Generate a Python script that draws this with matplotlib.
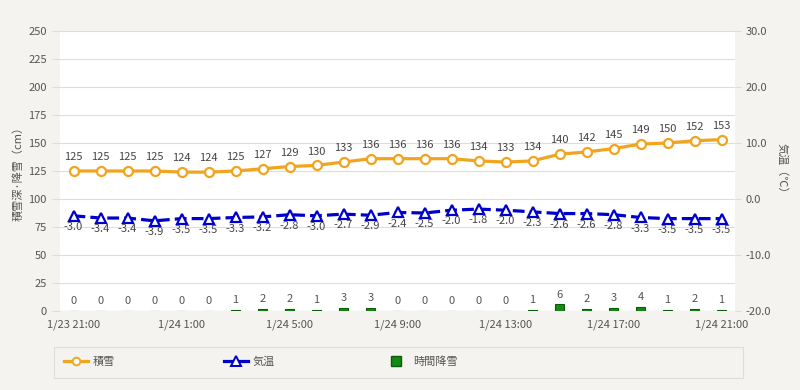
import numpy as np
import matplotlib.pyplot as plt
from matplotlib.lines import Line2D
from matplotlib.patches import Rectangle

plt.rcParams['font.family'] = ['Noto Sans CJK JP', 'DejaVu Sans']

hours = ['1/23 21:00', '1/23 22:00', '1/23 23:00', '1/24 0:00', '1/24 1:00', '1/24 2:00',
         '1/24 3:00', '1/24 4:00', '1/24 5:00', '1/24 6:00', '1/24 7:00', '1/24 8:00',
         '1/24 9:00', '1/24 10:00', '1/24 11:00', '1/24 12:00', '1/24 13:00', '1/24 14:00',
         '1/24 15:00', '1/24 16:00', '1/24 17:00', '1/24 18:00', '1/24 19:00', '1/24 20:00',
         '1/24 21:00']
snow_depth = [125, 125, 125, 125, 124, 124, 125, 127, 129, 130, 133, 136, 136,
              136, 136, 134, 133, 134, 140, 142, 145, 149, 150, 152, 153]
temperature = [-3.0, -3.4, -3.4, -3.9, -3.5, -3.5, -3.3, -3.2, -2.8, -3.0, -2.7, -2.9, -2.4,
               -2.5, -2.0, -1.8, -2.0, -2.3, -2.6, -2.6, -2.8, -3.3, -3.5, -3.5, -3.5]
snowfall = [0, 0, 0, 0, 0, 0, 1, 2, 2, 1, 3, 3, 0,
            0, 0, 0, 0, 1, 6, 2, 3, 4, 1, 2, 1]

BG = '#f4f3ef'
TXT = '#555555'
ORANGE = '#f2a41f'
BLUE = '#0000cc'
GREEN = '#138a13'

x = np.arange(len(hours))

fig = plt.figure(figsize=(8, 3.9), dpi=100, facecolor=BG)
ax = fig.add_axes([60 / 800, 1 - 311 / 390, 675 / 800, 280 / 390])
ax.set_facecolor('white')
ax2 = ax.twinx()

ax.set_xlim(-0.5, len(hours) - 0.5)
ax.set_ylim(0, 250)
ax2.set_ylim(-20, 30)
ax.set_yticks(np.arange(0, 251, 25))
ax2.set_yticks(np.arange(-20, 31, 10))
ax2.set_yticklabels([f'{v:.1f}' for v in np.arange(-20, 31, 10)])
ax.set_xticks(x[::4])
ax.set_xticklabels(hours[::4])
ax.grid(axis='y', color='#dddddd', lw=0.8)
ax.set_axisbelow(True)
for a in (ax, ax2):
    for s in a.spines.values():
        s.set_visible(False)
    a.tick_params(labelsize=8, colors=TXT, length=6, width=0.8)
ax.tick_params(axis='y', color='#dddddd')
ax2.tick_params(axis='y', color='#dddddd', length=4)
ax.tick_params(axis='x', length=0, pad=6)
ax.axhline(0, color='#cccccc', lw=0.8)

ax.set_ylabel('積雪深·降雪（cm）', fontsize=8, color=TXT, labelpad=3)
ax2.set_ylabel('気温（℃）', fontsize=8, color=TXT, rotation=270, labelpad=12)

# hourly snowfall bars
ax.bar(x, snowfall, width=0.37, color=GREEN, edgecolor='#0a5c0a', lw=0.8, zorder=2)
for xi, v in zip(x, snowfall):
    ax.annotate(str(v), (xi, v), xytext=(0, 7), textcoords='offset points',
                ha='center', va='center', fontsize=8, color=TXT)

# snow depth
ax.plot(x, snow_depth, color=ORANGE, lw=2.3, marker='o', ms=6.5, mfc='white',
        mec=ORANGE, mew=1.6, zorder=3)
for xi, v in zip(x, snow_depth):
    ax.annotate(str(v), (xi, v), xytext=(0, 10), textcoords='offset points',
                ha='center', va='center', fontsize=8, color='#444444')

# temperature
ax2.plot(x, temperature, color=BLUE, lw=2.3, ls=(0, (3.7, 1.6)), marker='^', ms=7.5,
         mfc='white', mec=BLUE, mew=1.6, zorder=3)
for xi, v in zip(x, temperature):
    ax2.annotate(f'{v:.1f}', (xi, v), xytext=(0, -8), textcoords='offset points',
                 ha='center', va='center', fontsize=8, color='#444444')

# legend
fig.patches.append(Rectangle((54 / 800, 1 - 378 / 390), 689 / 800, 31 / 390,
                             transform=fig.transFigure, facecolor=BG,
                             edgecolor='#dddddd', lw=0.8))
handles = [
    Line2D([], [], color=ORANGE, lw=2.3, marker='o', ms=5.5, mfc='white', mec=ORANGE, mew=1.4),
    Line2D([], [], color=BLUE, lw=2.3, marker='^', ms=6.5, mfc='white', mec=BLUE, mew=1.4),
    Line2D([], [], color=GREEN, lw=0, marker='s', ms=6.5, mec='#0a5c0a'),
]
fig.legend(handles, ['積雪', '気温', '時間降雪'], loc='center left',
           bbox_to_anchor=(54 / 800, 1 - 362 / 390), ncol=3, frameon=False,
           fontsize=8, labelcolor=TXT, handlelength=2.2, handletextpad=0.4,
           columnspacing=9.8)

fig.savefig('out.png', dpi=100, facecolor=BG)
